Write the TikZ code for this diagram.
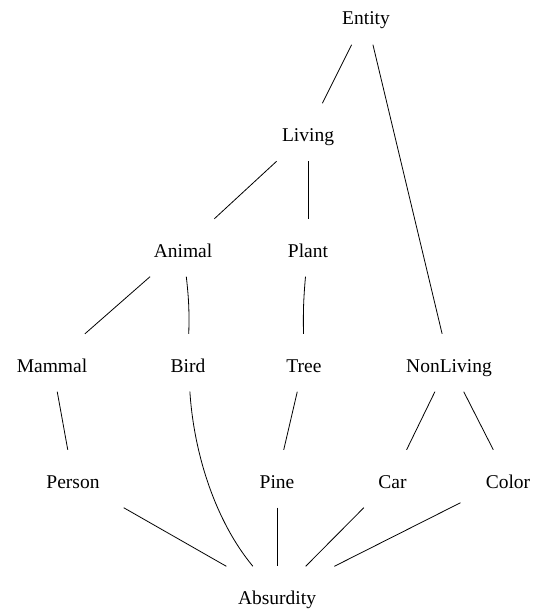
\documentclass[tikz,border=0pt]{standalone}
\usepackage{fontspec}
\setmainfont{Liberation Serif}
\begin{document}
\begin{tikzpicture}[x=1pt,y=-1pt,
  % invisible boxes: edges stop a fixed distance above and below each label
  concept/.style={rectangle,draw=none,anchor=base,inner xsep=0pt,inner ysep=0pt,
    text height=38pt,text depth=19.5pt,minimum width=130pt,
    font=\fontsize{19.5}{23}\selectfont},
  link/.style={draw=black,line width=0.8pt}]
  \useasboundingbox (0,0) rectangle (533,609);
  % concept hierarchy (positions are label baselines)
  \node[concept] (entity)    at (366,25)    {Entity};
  \node[concept] (living)    at (308,141.5) {Living};
  \node[concept] (animal)    at (183,257)   {Animal};
  \node[concept] (plant)     at (308,257)   {Plant};
  \node[concept] (mammal)    at (52,372)    {Mammal};
  \node[concept] (bird)      at (188,372)   {Bird};
  \node[concept] (tree)      at (304,372)   {Tree};
  \node[concept] (nonliving) at (449,372)   {NonLiving};
  \node[concept] (person)    at (73,488)    {Person};
  \node[concept] (pine)      at (277,488)   {Pine};
  \node[concept] (car)       at (392.5,488) {Car};
  \node[concept] (color)     at (508,488)   {Color};
  \node[concept] (absurdity) at (277,604.5) {Absurdity};
  % edges
  \path[link] (entity) -- (living);
  \path[link] (entity) -- (nonliving);
  \path[link] (living) -- (animal);
  \path[link] (living) -- (plant);
  \path[link] (animal) -- (mammal);
  \path[link] (animal) to[bend left=4] (bird);
  \path[link] (plant) to[bend right=3] (tree);
  \path[link] (mammal) -- (person);
  \path[link] (tree) -- (pine);
  \path[link] (nonliving) -- (car);
  \path[link] (nonliving) -- (color);
  \path[link] (bird) .. controls (194,455) and (216,522) .. (absurdity);
  \path[link] (person) -- (absurdity);
  \path[link] (pine) -- (absurdity);
  \path[link] (car) -- (absurdity);
  \path[link,shorten <=-11pt] (color) -- (absurdity);
\end{tikzpicture}
\end{document}
